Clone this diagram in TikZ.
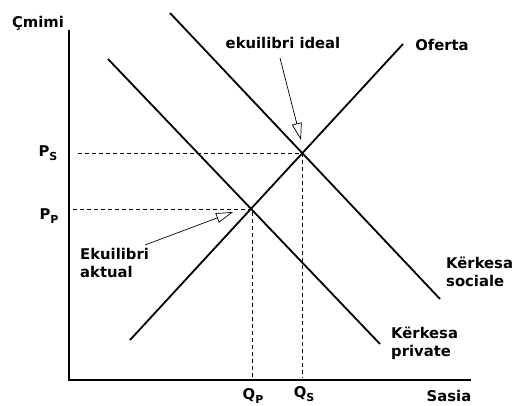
\documentclass[tikz,border=0pt]{standalone}
\usepackage{fontspec}
\setmainfont{DejaVu Sans}
\usetikzlibrary{arrows.meta}
\begin{document}
\begin{tikzpicture}[x=1pt,y=-1pt,
  lbl/.style={font=\bfseries\fontsize{14.8}{18}\selectfont, inner sep=0pt, align=left},
  axisline/.style={line width=2.8pt},
  curve/.style={line width=1.8pt},
  guide/.style={dashed, line width=0.7pt, dash pattern=on 4pt off 3pt},
  pointer/.style={line width=0.7pt, -{Triangle[open, length=17pt, width=10pt]}}]
\useasboundingbox (0,0) rectangle (519,406);
% coordinates
\coordinate (O) at (69,380);
\coordinate (Ytop) at (69,30);
\coordinate (Xend) at (471,380);
\coordinate (Es) at (302,153);
\coordinate (Ep) at (252,209);
\coordinate (SupLo) at (130,340);
\coordinate (SupHi) at (403,44);
\coordinate (DsHi) at (170,13);
\coordinate (DsLo) at (440,299);
\coordinate (DpHi) at (108,59);
\coordinate (DpLo) at (380,344);
\coordinate (YPs) at (78,153);
\coordinate (YPp) at (73,209);
\coordinate (XQs) at (302,378);
\coordinate (XQp) at (252,378);
% axes
\draw[axisline] (Ytop) -- (O) -- (Xend);
% curves
\draw[curve] (SupLo) -- (SupHi);
\draw[curve] (DsHi) -- (DsLo);
\draw[curve] (DpHi) -- (DpLo);
% guides
\draw[guide] (YPs) -- (Es) -- (XQs);
\draw[guide] (YPp) -- (Ep) -- (XQp);
% labels
\node[lbl] (cm) at (38,23) {Çmimi};
\node[lbl] (ps) at (48,153) {P\raisebox{-0.5ex}{\fontsize{11}{12}\selectfont S}};
\node[lbl] (pp) at (49,216) {P\raisebox{-0.5ex}{\fontsize{11}{12}\selectfont P}};
\node[lbl] (qp) at (253,396) {Q\raisebox{-0.5ex}{\fontsize{11}{12}\selectfont P}};
\node[lbl] (qs) at (304,394) {Q\raisebox{-0.5ex}{\fontsize{11}{12}\selectfont S}};
\node[lbl] (sasia) at (449,396) {Sasia};
\node[lbl] (ideal) at (283,43) {ekuilibri ideal};
\node[lbl] (oferta) at (442,45) {Oferta};
\node[lbl, anchor=west] (aktual) at (80,263) {Ekuilibri\\aktual};
\node[lbl, anchor=west] (ksoc) at (446,272) {Kërkesa\\sociale};
\node[lbl, anchor=west] (kpriv) at (391,343) {Kërkesa\\private};
% pointers
\coordinate (IdealTail) at (280,58);
\coordinate (IdealTip) at (301,140);
\coordinate (AktTail) at (145,245);
\coordinate (AktTip) at (233,212);
\draw[pointer] (IdealTail) -- (IdealTip);
\draw[pointer] (AktTail) -- (AktTip);
\end{tikzpicture}
\end{document}
